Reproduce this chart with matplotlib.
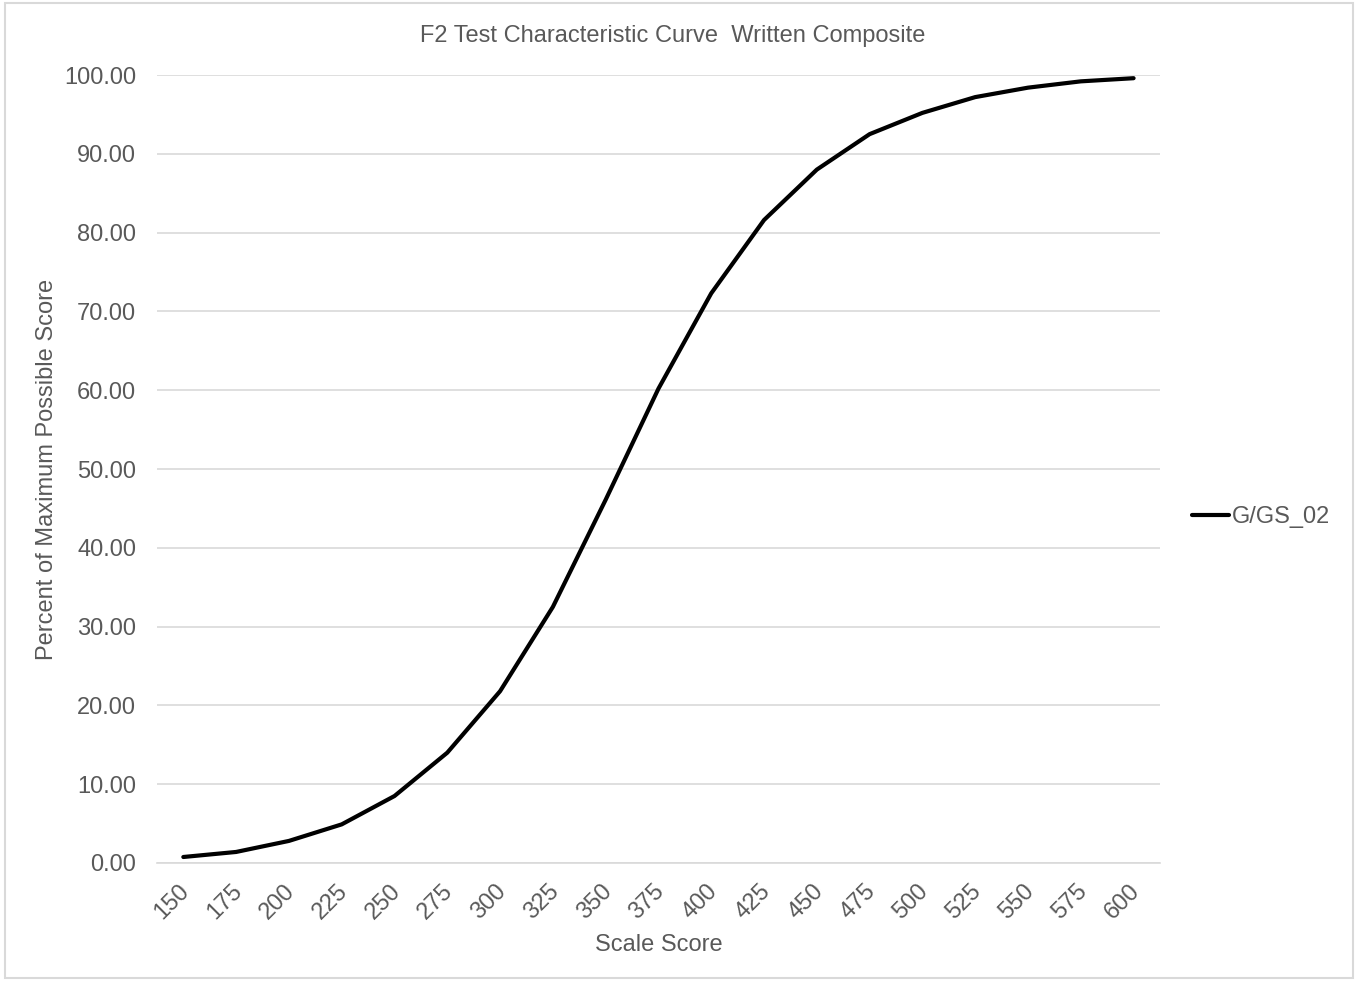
import matplotlib
matplotlib.use('Agg')
import matplotlib.pyplot as plt
import matplotlib.transforms as mtransforms
import numpy as np

plt.rcParams['font.family'] = ['Liberation Sans', 'DejaVu Sans']

# data
scores = ['150', '175', '200', '225', '250', '275', '300', '325', '350', '375',
          '400', '425', '450', '475', '500', '525', '550', '575', '600']
pct = [0.76, 1.4, 2.8, 4.9, 8.5, 14.0, 21.8, 32.5, 46.1, 60.2,
       72.3, 81.6, 88.0, 92.5, 95.2, 97.2, 98.4, 99.2, 99.6]
series_name = 'G/GS_02'

TXT = '#595959'
GRID = '#d9d9d9'

fig = plt.figure(figsize=(13.61, 9.81), dpi=100)
ax = fig.add_axes([0.1153, 0.1203, 0.7370, 0.8032])

x = np.arange(len(scores))
line, = ax.plot(x, pct, color='black', linewidth=3, solid_capstyle='round', zorder=3)

ax.set_xlim(-0.5, len(scores) - 0.5)
ax.set_ylim(0, 100)
ax.set_yticks(np.arange(0, 101, 10))
ax.set_yticklabels([f'{v:.2f}' for v in np.arange(0, 101, 10)], fontsize=17, color=TXT)
ax.set_xticks(x)
ax.set_xticklabels(scores, rotation=45, ha='right', rotation_mode='anchor', fontsize=17, color=TXT)
ax.tick_params(axis='y', length=0, pad=15)
ax.tick_params(axis='x', length=0, pad=12)
shift = mtransforms.ScaledTranslation(-5 / 100, 0, fig.dpi_scale_trans)
for lbl in ax.get_xticklabels():
    lbl.set_transform(lbl.get_transform() + shift)

ax.grid(axis='y', color=GRID, linewidth=1.2)
ax.set_axisbelow(True)
for s in ['top', 'right', 'left']:
    ax.spines[s].set_visible(False)
ax.spines['bottom'].set_color(GRID)
ax.spines['bottom'].set_linewidth(1.2)

ax.set_xlabel('Scale Score', fontsize=17, color=TXT, labelpad=8)
ax.set_ylabel('Percent of Maximum Possible Score', fontsize=17, color=TXT, labelpad=4)

fig.text(0.494, 0.963, 'F2 Test Characteristic Curve  Written Composite',
         ha='center', va='center', fontsize=17, color=TXT)

fig.legend([line], [series_name], loc='center left', bbox_to_anchor=(0.860, 0.473),
           frameon=False, fontsize=17, labelcolor=TXT, handlelength=1.6, handletextpad=0.1)

# light chart border
border = plt.Rectangle((0.004, 0.003), 0.99, 0.994, transform=fig.transFigure,
                       fill=False, edgecolor='#d9d9d9', linewidth=1.5)
fig.patches.append(border)

fig.savefig('out.png', dpi=100, facecolor='white')
